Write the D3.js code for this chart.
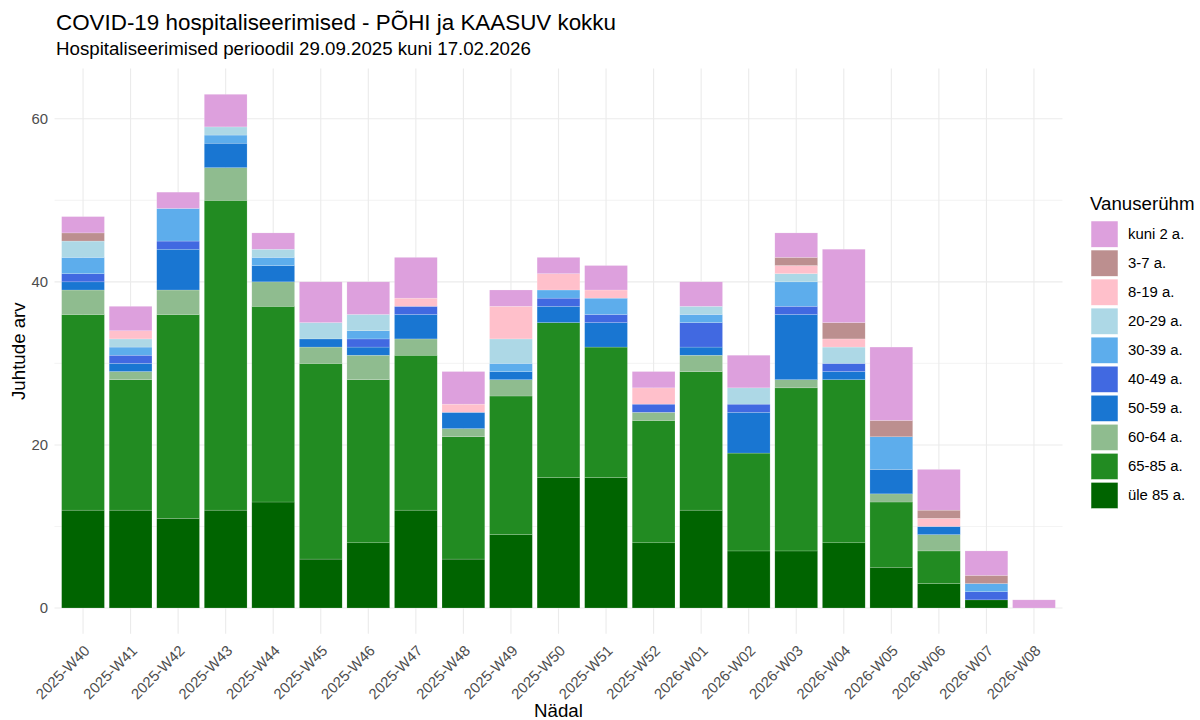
<!DOCTYPE html>
<html><head><meta charset="utf-8">
<script src="https://cdn.jsdelivr.net/npm/d3@7"></script>
<style>body{margin:0;background:#fff;font-family:"Liberation Sans",Arial,sans-serif}</style>
</head><body><svg id="c" width="1200" height="720"></svg>
<script>
const weeks = ["2025-W40","2025-W41","2025-W42","2025-W43","2025-W44","2025-W45","2025-W46","2025-W47","2025-W48","2025-W49","2025-W50","2025-W51","2025-W52","2026-W01","2026-W02","2026-W03","2026-W04","2026-W05","2026-W06","2026-W07","2026-W08"];
const groups = ["üle 85 a.","65-85 a.","60-64 a.","50-59 a.","40-49 a.","30-39 a.","20-29 a.","8-19 a.","3-7 a.","kuni 2 a."];
const ule85   = [12,12,11,12,13, 6, 8,12, 6, 9,16,16, 8,12, 7, 7, 8, 5, 3, 1,0];
const a65_85  = [24,16,25,38,24,24,20,19,15,17,19,16,15,17,12,20,20, 8, 4, 0,0];
const a60_64  = [ 3, 1, 3, 4, 3, 2, 3, 2, 1, 2, 0, 0, 1, 2, 0, 1, 0, 1, 2, 0,0];
const a50_59  = [ 1, 1, 5, 3, 2, 1, 1, 3, 2, 1, 2, 3, 0, 1, 5, 8, 1, 3, 1, 0,0];
const a40_49  = [ 1, 1, 1, 0, 0, 0, 1, 1, 0, 0, 1, 1, 1, 3, 1, 1, 1, 0, 0, 1,0];
const a30_39  = [ 2, 1, 4, 1, 1, 0, 1, 0, 0, 1, 1, 2, 0, 1, 0, 3, 0, 4, 0, 1,0];
const a20_29  = [ 2, 1, 0, 1, 1, 2, 2, 0, 0, 3, 0, 0, 0, 1, 2, 1, 2, 0, 0, 0,0];
const a8_19   = [ 0, 1, 0, 0, 0, 0, 0, 1, 1, 4, 2, 1, 2, 0, 0, 1, 1, 0, 1, 0,0];
const a3_7    = [ 1, 0, 0, 0, 0, 0, 0, 0, 0, 0, 0, 0, 0, 0, 0, 1, 2, 2, 1, 1,0];
const kuni2   = [ 2, 3, 2, 4, 2, 5, 4, 5, 4, 2, 2, 3, 2, 3, 4, 3, 9, 9, 5, 3,1];
const seriesValues = [ule85,a65_85,a60_64,a50_59,a40_49,a30_39,a20_29,a8_19,a3_7,kuni2];
const colors = ["#006400","#228B22","#8FBC8F","#1976D2","#4169E1","#5DADEC","#ADD8E6","#FFC0CB","#BC8F8F","#DDA0DD"];
const yTicks = [0,20,40,60];
const yMinor = [10,30,50];
const titleText = "COVID-19 hospitaliseerimised - PÕHI ja KAASUV kokku";
const subtitleText = "Hospitaliseerimised perioodil 29.09.2025 kuni 17.02.2026";

const rows = weeks.map((w,i)=>{const r={week:w}; groups.forEach((g,j)=>r[g]=seriesValues[j][i]); return r;});
const stack = d3.stack().keys(groups)(rows);
const maxY = d3.max(rows, r=>d3.sum(groups, g=>r[g]));

const svg = d3.select("#c");
const L=54.5, R=1062.5, T=68.6, B=633.7;
const n = weeks.length, step = (R-L)/(n+0.2);
const x = d3.scalePoint().domain(weeks).range([L+0.6*step, R-0.6*step]);
const bw = step*0.9;
const y = d3.scaleLinear().domain([-maxY*0.05, maxY*1.05]).range([B,T]);

const g = svg.append("g");
yMinor.forEach(v=>g.append("line").attr("x1",L).attr("x2",R).attr("y1",y(v)).attr("y2",y(v)).attr("stroke","#EBEBEB").attr("stroke-width",0.6));
yTicks.forEach(v=>g.append("line").attr("x1",L).attr("x2",R).attr("y1",y(v)).attr("y2",y(v)).attr("stroke","#EBEBEB").attr("stroke-width",1.1));
weeks.forEach(w=>g.append("line").attr("x1",x(w)).attr("x2",x(w)).attr("y1",T).attr("y2",B).attr("stroke","#EBEBEB").attr("stroke-width",1.1));

stack.forEach((s,j)=>{
  g.selectAll(null).data(s.filter(d=>d[1]-d[0]>0)).enter().append("rect")
    .attr("x",d=>x(d.data.week)-bw/2).attr("width",bw)
    .attr("y",d=>y(d[1])).attr("height",d=>y(d[0])-y(d[1]))
    .attr("fill",colors[j]).attr("stroke","#ffffff").attr("stroke-opacity",0.35).attr("stroke-width",0.5);
});

const tickFs = 14.9, bigFs = 18.7;
yTicks.forEach(v=>svg.append("text").attr("x",48).attr("y",y(v)).attr("dy","0.36em").attr("text-anchor","end").attr("font-size",tickFs).attr("fill","#4D4D4D").text(v));
weeks.forEach(w=>{
  svg.append("text").attr("transform",`translate(${x(w)},${644}) rotate(-45)`).attr("text-anchor","end").attr("dy","0.72em")
    .attr("font-size",tickFs).attr("fill","#4D4D4D").text(w);
});
svg.append("text").attr("x",(L+R)/2).attr("y",717).attr("text-anchor","middle").attr("font-size",bigFs).attr("fill","#000").text("Nädal");
svg.append("text").attr("transform",`translate(25,${(T+B)/2}) rotate(-90)`).attr("text-anchor","middle").attr("font-size",bigFs).attr("fill","#000").text("Juhtude arv");
svg.append("text").attr("x",56).attr("y",30).attr("font-size",22.4).attr("fill","#000").text(titleText);
svg.append("text").attr("x",56).attr("y",55).attr("font-size",bigFs).attr("fill","#000").text(subtitleText);

const lg = svg.append("g");
lg.append("text").attr("x",1090).attr("y",210).attr("font-size",bigFs).attr("fill","#000").text("Vanuserühm");
const legOrder = groups.slice().reverse();
legOrder.forEach((gname,i)=>{
  const j = groups.indexOf(gname);
  const yy = 221 + i*29.03;
  lg.append("rect").attr("x",1091).attr("y",yy).attr("width",27).attr("height",26.3).attr("fill",colors[j]).attr("stroke","#fff").attr("stroke-width",0.5);
  lg.append("text").attr("x",1128).attr("y",yy+17.5).attr("font-size",tickFs).attr("fill","#000").text(gname);
});
</script></body></html>
